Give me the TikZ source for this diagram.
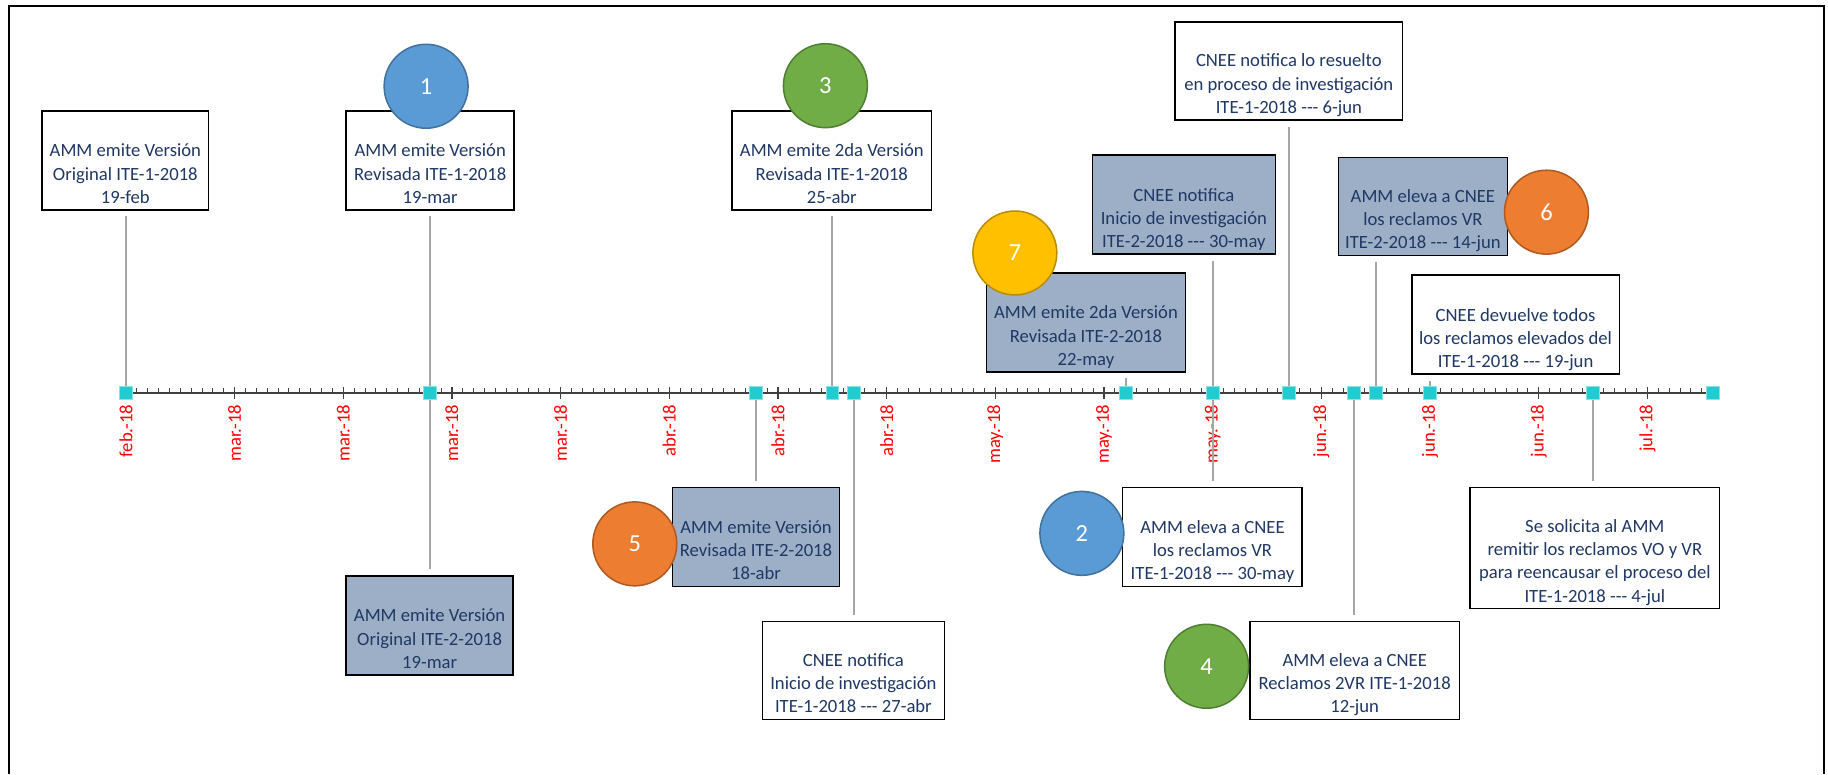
\documentclass[tikz,border=0pt]{standalone}
\usepackage{fontspec}
\setmainfont{Carlito}

\definecolor{navy}{HTML}{1F3864}
\definecolor{slate}{RGB}{157,175,198}
\definecolor{stemgray}{HTML}{A6A6A6}
\definecolor{axisgray}{HTML}{404040}
\definecolor{turq}{HTML}{21CBCF}
\definecolor{bluefill}{HTML}{5B9BD5}
\definecolor{blueline}{HTML}{41719C}
\definecolor{greenfill}{HTML}{70AD47}
\definecolor{greenline}{HTML}{507E32}
\definecolor{orangefill}{HTML}{ED7D31}
\definecolor{orangeline}{HTML}{AE5A21}
\definecolor{goldfill}{HTML}{FFC000}
\definecolor{goldline}{HTML}{BC8C00}

\begin{document}
\begin{tikzpicture}[x=1pt,y=-1pt,
    evbox/.style={draw=black,line width=1.3pt,inner sep=0pt},
    plain/.style={evbox,fill=white},
    shaded/.style={evbox,fill=slate},
    evtext/.style={text=navy,font=\fontsize{16}{20}\selectfont,align=center,
        inner sep=0pt,anchor=south,execute at end node=\strut},
    badge/.style 2 args={circle,fill=#1,draw=#2,line width=1.3pt,minimum size=72pt,
        inner sep=0pt,text=white,font=\fontsize{21}{25}\selectfont},
    hito/.style={rectangle,fill=turq,draw=turq!55!white,line width=0.6pt,
        minimum size=11pt,inner sep=0pt},
    stem/.style={stemgray,line width=1.6pt,shorten >=5pt},
    mes/.style={text=red,font=\fontsize{16}{19}\selectfont,rotate=90,anchor=east,inner sep=0pt}]
    \useasboundingbox (0,0) rectangle (1568,664);
    \draw[line width=1.7pt] (7.5,664) -- (7.5,5) -- (1564.5,5) -- (1564.5,664);

    \draw[axisgray,line width=1.6pt] (108,337) -- (1469,337);
    \foreach \d in {0,...,146}
        \draw[axisgray,line width=0.8pt] ({108+9.322*\d},337) -- ++(0,-4);
    \foreach \m [count=\i from 0] in {feb,mar,mar,mar,mar,abr,abr,abr,may,may,may,jun,jun,jun,jul} {
        \draw[axisgray,line width=1.2pt] ({108+93.22*\i},332) -- ++(0,10);
        \node[mes] (lab\i) at ({108+93.22*\i},347) {\m.-18};
    }
    \foreach \d/\n in {0/feb19,28/mar19,58/abr18,65/abr25,67/abr27,92/may22,100/may30,
        107/jun06,113/jun12,115/jun14,120/jun19,135/jul04,146/fin}
        \coordinate (\n) at ({108+9.322*\d},337);

    \node[plain,minimum width=143,minimum height=85] (b1) at (107.5,137.5) {};
    \node[plain,minimum width=144,minimum height=85] (b2) at (369,137.5) {};
    \node[plain,minimum width=171,minimum height=85] (b3) at (713.5,137.5) {};
    \node[plain,minimum width=195,minimum height=84] (b4) at (1105.5,61) {};
    \node[shaded,minimum width=157,minimum height=85] (b5) at (1015.5,175.5) {};
    \node[shaded,minimum width=145,minimum height=84] (b6) at (1220.5,177) {};
    \node[shaded,minimum width=171,minimum height=85] (b7) at (931.5,276.5) {};
    \node[plain,minimum width=178,minimum height=85] (b8) at (1300,278.5) {};
    \node[shaded,minimum width=143,minimum height=85] (b9) at (368.5,536.5) {};
    \node[shaded,minimum width=143,minimum height=85] (b10) at (648.5,460.5) {};
    \node[plain,minimum width=156,minimum height=84] (b11) at (732,575) {};
    \node[plain,minimum width=154,minimum height=85] (b12) at (1040,460.5) {};
    \node[plain,minimum width=180,minimum height=84] (b13) at (1162,575) {};
    \node[plain,minimum width=214,minimum height=104] (b14) at (1368,470) {};

    \node[evtext] (t1) at (b1.south) {AMM emite Versión\\Original ITE-1-2018\\19-feb};
    \node[evtext] (t2) at (b2.south) {AMM emite Versión\\Revisada ITE-1-2018\\19-mar};
    \node[evtext] (t3) at (b3.south) {AMM emite 2da Versión\\Revisada ITE-1-2018\\25-abr};
    \node[evtext] (t4) at (b4.south) {CNEE notifica lo resuelto\\en proceso de investigación\\ITE-1-2018 -{}-{}- 6-jun};
    \node[evtext] (t5) at (b5.south) {CNEE notifica\\Inicio de investigación\\ITE-2-2018 -{}-{}- 30-may};
    \node[evtext] (t6) at (b6.south) {AMM eleva a CNEE\\los reclamos VR\\ITE-2-2018 -{}-{}- 14-jun};
    \node[evtext] (t7) at (b7.south) {AMM emite 2da Versión\\Revisada ITE-2-2018\\22-may};
    \node[evtext] (t8) at (b8.south) {CNEE devuelve todos\\los reclamos elevados del\\ITE-1-2018 -{}-{}- 19-jun};
    \node[evtext] (t9) at (b9.south) {AMM emite Versión\\Original ITE-2-2018\\19-mar};
    \node[evtext] (t10) at (b10.south) {AMM emite Versión\\Revisada ITE-2-2018\\18-abr};
    \node[evtext] (t11) at (b11.south) {CNEE notifica\\Inicio de investigación\\ITE-1-2018 -{}-{}- 27-abr};
    \node[evtext] (t12) at (b12.south) {AMM eleva a CNEE\\los reclamos VR\\ITE-1-2018 -{}-{}- 30-may};
    \node[evtext] (t13) at (b13.south) {AMM eleva a CNEE\\Reclamos 2VR ITE-1-2018\\12-jun};
    \node[evtext] (t14) at (b14.south) {Se solicita al AMM\\remitir los reclamos VO y VR\\para reencausar el proceso del\\ITE-1-2018 -{}-{}- 4-jul};

    \foreach \n/\b/\a in {feb19/b1/south,mar19/b2/south,abr25/b3/south,jun06/b4/south,
        may30/b5/south,jun14/b6/south,may22/b7/south,jun19/b8/south,mar19/b9/north,
        abr18/b10/north,abr27/b11/north,may30/b12/north,jun12/b13/north,jul04/b14/north}
        \draw[stem] (\n) -- (\n |- \b.\a);

    \foreach \n in {feb19,mar19,abr18,abr25,abr27,may22,may30,jun06,jun12,jun14,jun19,jul04,fin}
        \node[hito] (sq-\n) at (\n) {};

    \node[badge={bluefill}{blueline}] (n1) at (365.5,74) {1};
    \node[badge={bluefill}{blueline}] (n2) at (928,457.5) {2};
    \node[badge={greenfill}{greenline}] (n3) at (708,73.5) {3};
    \node[badge={greenfill}{greenline}] (n4) at (1035,571.5) {4};
    \node[badge={orangefill}{orangeline}] (n5) at (544.5,466.5) {5};
    \node[badge={orangefill}{orangeline}] (n6) at (1326.5,182) {6};
    \node[badge={goldfill}{goldline}] (n7) at (870.5,217) {7};
\end{tikzpicture}
\end{document}
